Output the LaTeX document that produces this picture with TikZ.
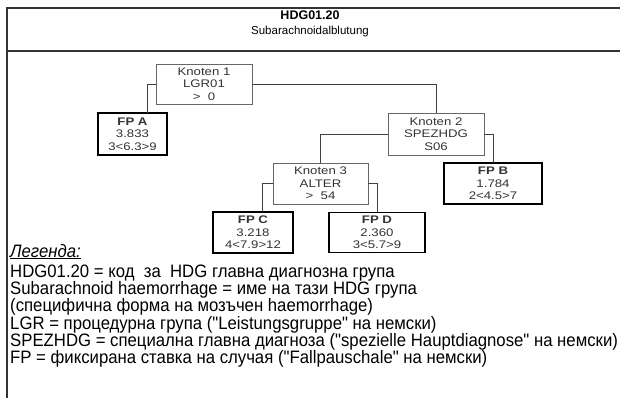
\documentclass[tikz,border=0pt]{standalone}
\usepackage{fontspec}
\setmainfont{Liberation Sans}
\newfontfamily\boxfont{Liberation Sans}[FakeStretch=1.2]
\newfontfamily\legfont{Liberation Sans}[FakeStretch=0.93]
\usetikzlibrary{calc}

\begin{document}
\begin{tikzpicture}[x=1pt,y=-1pt,line cap=rect,
  knoten/.style={draw=black!60,line width=0.8pt,fill=white,align=center,
    minimum width=96pt,minimum height=41pt,inner sep=0pt,
    font=\boxfont\fontsize{11}{12.5}\selectfont,text=black!80},
  fpbox/.style={knoten,draw=black,line width=1.6pt},
  conn/.style={draw=black!75,line width=0.8pt},
  legline/.style={anchor=base west,inner sep=0pt,font=\legfont\fontsize{18}{17}\selectfont}]
  \useasboundingbox (0,0) rectangle (620,397);

  % outer frame and title
  \draw[black!80,line width=1.3pt] (620,8) -| (7,397);
  \draw[black!80,line width=1.3pt] (7,51) -- (620,51);
  \node[anchor=base,inner sep=0pt,font=\bfseries\fontsize{12.5}{14}\selectfont] (ttl) at (310,19.5) {HDG01.20};
  \node[anchor=base,inner sep=0pt,font=\fontsize{11.5}{13}\selectfont] (sub) at (310,34) {Subarachnoidalblutung};

  % ---- tree ----
  \node[knoten,minimum height=40pt] (k1) at (204,84) {Knoten 1\\LGR01\\>\ \ 0};
  \node[fpbox,minimum width=69pt,minimum height=42pt] (fpa) at (132.5,134) {\textbf{FP A}\\3.833\\3<6.3>9};
  \node[knoten,minimum height=42pt] (k2) at (436,134) {Knoten 2\\SPEZHDG\\S06};
  \node[fpbox,minimum width=98pt] (fpb) at (493,183.5) {\textbf{FP B}\\1.784\\2<4.5>7};
  \node[knoten,minimum width=95pt] (k3) at (320.5,183.5) {Knoten 3\\ALTER\\>\ \ 54};
  \node[fpbox,minimum width=80pt] (fpc) at (253,232.5) {\textbf{FP C}\\3.218\\4<7.9>12};
  \node[fpbox,minimum height=40pt] (fpd) at (377,232.5) {\textbf{FP D}\\2.360\\3<5.7>9};

  % connectors
  \draw[conn] (k1.west) -| ($(fpa.north west)!0.71!(fpa.north east)$);
  \draw[conn] (k1.east) -| (k2.north);
  \draw[conn] (k2.west) -| (k3.north);
  \draw[conn] (k2.east) -| (fpb.north);
  \draw[conn] (k3.west) -| ($(fpc.north west)!0.62!(fpc.north east)$);
  \draw[conn] (k3.east) -| (fpd.north);

  % ---- legend ----
  \node[legline] (leg0) at (10,257) {\underline{\textit{Легенда:}}};
  \node[legline] (leg1) at (10,277.5) {HDG01.20 = код \ за \ HDG главна диагнозна група};
  \node[legline] (leg2) at (10,294.7) {Subarachnoid haemorrhage = име на тази HDG група};
  \node[legline] (leg3) at (10,311.9) {(специфична форма на мозъчен haemorrhage)};
  \node[legline] (leg4) at (10,329.1) {LGR = процедурна група ("Leistungsgruppe" на немски)};
  \node[legline] (leg5) at (10,346.3) {SPEZHDG = специална главна диагноза ("spezielle Hauptdiagnose" на немски)};
  \node[legline] (leg6) at (10,363.5) {FP = фиксирана ставка на случая ("Fallpauschale" на немски)};
\end{tikzpicture}
\end{document}
